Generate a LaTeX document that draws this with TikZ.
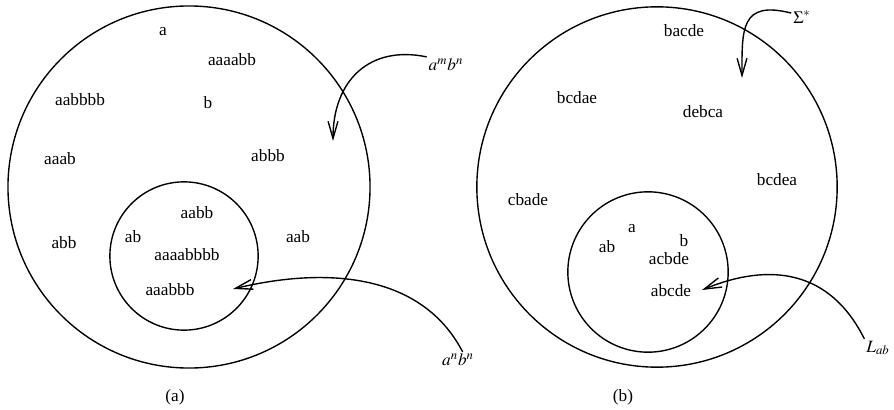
\documentclass[tikz,border=0pt]{standalone}
\usepackage{mathptmx}
\usepackage{fontspec}
\setmainfont{Liberation Serif}
\usetikzlibrary{arrows.meta}

\tikzset{
  word/.style={inner sep=1pt},
  langset/.style={draw, circle, line width=0.8pt, inner sep=0pt, outer sep=0pt},
  pointer/.style={line width=0.8pt, -{Straight Barb[length=3.5mm, width=2mm]}}
}

\begin{document}
\begin{tikzpicture}[x=0.58pt, y=-0.58pt]
    \useasboundingbox (0,0) rectangle (894,410);

    % (a) strings over a and b
    \node[langset, minimum size=210pt] (outerA) at (189,187) {};
    \node[langset, minimum size=86pt] (innerA) at (184,256) {};
    \node[word] (a1) at (163,32) {a};
    \node[word] (a2) at (232,60) {aaaabb};
    \node[word] (a3) at (80,100) {aabbbb};
    \node[word] (a4) at (208,103) {b};
    \node[word] (a5) at (60,159) {aaab};
    \node[word] (a6) at (268,156) {abbb};
    \node[word] (a7) at (64,243) {abb};
    \node[word] (a8) at (298,237) {aab};
    \node[word] (a9) at (197,213) {aabb};
    \node[word] (a10) at (133,237) {ab};
    \node[word] (a11) at (187,255) {aaaabbbb};
    \node[word] (a12) at (170,290) {aaabbb};
    \node[word] (ambn) at (446,65) {$a^m b^n$};
    \node[word] (anbn) at (458,360) {$a^n b^n$};
    \node (capA) at (175,397) {(a)};
    \coordinate (tipA) at (333,141);
    \coordinate (tipB) at (233,289);
    \draw[pointer] (ambn.north west) .. controls (370,45) and (333,80) .. (tipA);
    \draw[pointer] (anbn.60) .. controls (420,270) and (320,268) .. (tipB);

    % (b) strings over a..e
    \node[langset, minimum size=209pt] (outerB) at (657,187) {};
    \node[langset, minimum size=93pt] (innerB) at (648,272) {};
    \node[word] (b1) at (684,31) {bacde};
    \node[word] (b2) at (577,98) {bcdae};
    \node[word] (b3) at (703,112) {debca};
    \node[word] (b4) at (777,180) {bcdea};
    \node[word] (b5) at (528,200) {cbade};
    \node[word] (b6) at (632,229) {a};
    \node[word] (b7) at (684,241) {b};
    \node[word] (b8) at (607,247) {ab};
    \node[word] (b9) at (669,259) {acbde};
    \node[word] (b10) at (671,291) {abcde};
    \node[word] (sig) at (802,17) {$\Sigma^*$};
    \node[word] (lab) at (878,348) {$L_{ab}$};
    \node (capB) at (623,397) {(b)};
    \coordinate (tipC) at (742,78);
    \coordinate (tipD) at (702,290);
    \draw[pointer] (sig.160) .. controls (740,0) and (742,30) .. (tipC);
    \draw[pointer] (lab.north west) .. controls (830,270) and (770,262) .. (tipD);
\end{tikzpicture}
\end{document}
